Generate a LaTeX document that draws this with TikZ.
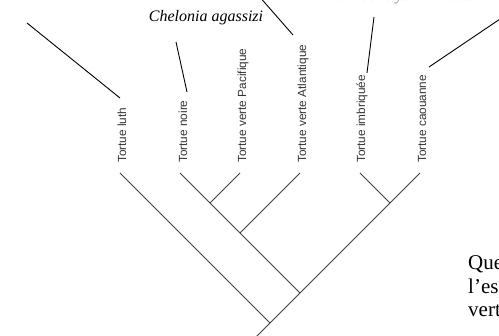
\documentclass[tikz,border=0pt]{standalone}
\usepackage{fontspec}
\setmainfont{Liberation Serif}
\newfontfamily\labelfont{Liberation Sans}
\begin{document}
\begin{tikzpicture}[x=1pt,y=-1pt,
  leaf/.style={rotate=90,anchor=west,inner sep=0pt,font=\labelfont\fontsize{11.8}{13}\selectfont,text=black!80},
  branch/.style={draw=black!75,line width=1pt},
  pointer/.style={draw=black,line width=0.9pt},
  species/.style={font=\itshape\fontsize{16}{18}\selectfont,inner sep=0pt,anchor=base},
  remark/.style={font=\fontsize{21}{24}\selectfont,inner sep=0pt,anchor=base west}]
\useasboundingbox (0,0) rectangle (499,336);

% leaf labels
\node[leaf] (luth) at (122,163) {Tortue luth};
\node[leaf] (noire) at (183,163) {Tortue noire};
\node[leaf] (pac) at (243,163) {Tortue verte Pacifique};
\node[leaf] (atl) at (303,163) {Tortue verte Atlantique};
\node[leaf] (imb) at (362,163) {Tortue imbriquée};
\node[leaf] (cao) at (422,163) {Tortue caouanne};

% branch tips and internal nodes
\coordinate (t1) at (120,173);
\coordinate (t2) at (180,173);
\coordinate (t3) at (240,173);
\coordinate (t4) at (300,173);
\coordinate (t5) at (360,173);
\coordinate (t6) at (420,173);
\coordinate (n1) at (210,203);
\coordinate (n2) at (240,233);
\coordinate (n3) at (390,203);
\coordinate (n4) at (300,293);
\coordinate (root) at (270,323);
\coordinate (stem) at (255,338);

\draw[branch] (t1) -- (root);
\draw[branch] (t2) -- (n4);
\draw[branch] (t3) -- (n1);
\draw[branch] (t4) -- (n2);
\draw[branch] (t5) -- (n3);
\draw[branch] (t6) -- (stem);

% species names and pointers
\node[species] (agassizi) at (206,22) {Chelonia agassizi};
\node[species,text=black!45] (imbricata) at (399,0.3) {Eretmochelys imbricata};

\coordinate (p1a) at (27,23);   \coordinate (p1b) at (120,98);
\coordinate (p2a) at (176,42);  \coordinate (p2b) at (187,92);
\coordinate (p3a) at (258,-5);  \coordinate (p3b) at (293,35);
\coordinate (p4a) at (374,17);  \coordinate (p4b) at (367,73);
\coordinate (p5a) at (506,15);  \coordinate (p5b) at (429,67);
\draw[pointer] (p1a) -- (p1b);
\draw[pointer] (p2a) -- (p2b);
\draw[pointer] (p3a) -- (p3b);
\draw[pointer] (p4a) -- (p4b);
\draw[pointer] (p5a) -- (p5b);

% question text running off the right margin
\node[remark] (q1) at (468,270) {Que};
\node[remark] (q2) at (468,294) {l’esp};
\node[remark] (q3) at (468,317) {vert};
\end{tikzpicture}
\end{document}
